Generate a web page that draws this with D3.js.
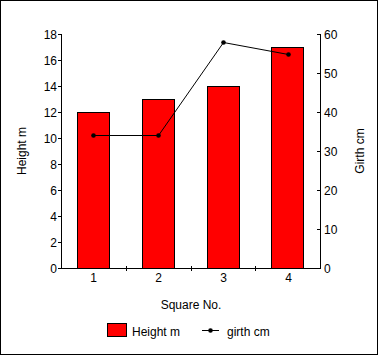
<!DOCTYPE html>
<html>
<head>
<meta charset="utf-8">
<script src="https://cdn.jsdelivr.net/npm/d3@7"></script>
<style>
  html, body { margin: 0; padding: 0; background: #fff; }
  svg { display: block; }
  text { font-family: Arial, "Liberation Sans", sans-serif; font-size: 12px; fill: #000; }
</style>
</head>
<body>
<script>
const categories = ["1", "2", "3", "4"];
const heightValues = [12, 13, 14, 17];
const girthValues = [34, 34, 58, 55];
const leftTicks = [0, 2, 4, 6, 8, 10, 12, 14, 16, 18];
const rightTicks = [0, 10, 20, 30, 40, 50, 60];

const W = 382, H = 356;
const svg = d3.select("body").append("svg").attr("width", W).attr("height", H);

// outer frame
svg.append("rect").attr("x", 0.5).attr("y", 0.5).attr("width", 377).attr("height", 354)
  .attr("fill", "#fff").attr("stroke", "#000").attr("stroke-width", 1);

const x0 = 61, x1 = 320, yTop = 34, yBot = 268;

const x = d3.scaleBand().domain(categories).range([x0, x1]).paddingInner(0.5).paddingOuter(0.25);
const xb = d3.scaleBand().domain(categories).range([x0, x1]);
const yL = d3.scaleLinear().domain([0, 18]).range([yBot, yTop]);
const yR = d3.scaleLinear().domain([0, 60]).range([yBot, yTop]);

// bars
svg.append("g").selectAll("rect").data(heightValues).join("rect")
  .attr("x", (d, i) => Math.round(x(categories[i])) + 0.5)
  .attr("y", d => Math.round(yL(d)) + 0.5)
  .attr("width", Math.round(x.bandwidth()))
  .attr("height", d => Math.round(yBot - yL(d)))
  .attr("fill", "#ff0000").attr("stroke", "#000").attr("stroke-width", 1);

// line
const cx = (i) => Math.round(xb(categories[i]) + xb.bandwidth() / 2);
const line = d3.line().x((d, i) => cx(i) + 0.5).y(d => Math.round(yR(d)) + 0.5);
svg.append("path").datum(girthValues).attr("d", line)
  .attr("fill", "none").attr("stroke", "#000").attr("stroke-width", 1);
svg.append("g").selectAll("circle").data(girthValues).join("circle")
  .attr("cx", (d, i) => cx(i) + 0.5).attr("cy", d => Math.round(yR(d)) + 0.5)
  .attr("r", 2.3).attr("fill", "#000");

// left axis
const gL = svg.append("g");
gL.append("line").attr("x1", x0 + 0.5).attr("x2", x0 + 0.5).attr("y1", yTop).attr("y2", yBot + 1)
  .attr("stroke", "#000");
gL.selectAll(".t").data(leftTicks).join("line")
  .attr("x1", x0 - 3).attr("x2", x0 + 1)
  .attr("y1", d => Math.round(yL(d)) + 0.5).attr("y2", d => Math.round(yL(d)) + 0.5)
  .attr("stroke", "#000");
gL.selectAll("text").data(leftTicks).join("text")
  .attr("x", x0 - 4).attr("y", d => yL(d) + 4.5)
  .attr("text-anchor", "end").text(d => d);

// right axis
const gR = svg.append("g");
gR.append("line").attr("x1", x1 + 0.5).attr("x2", x1 + 0.5).attr("y1", yTop).attr("y2", yBot + 1)
  .attr("stroke", "#000");
gR.selectAll(".t").data(rightTicks).join("line")
  .attr("x1", x1 - 3).attr("x2", x1 + 1)
  .attr("y1", d => Math.round(yR(d)) + 0.5).attr("y2", d => Math.round(yR(d)) + 0.5)
  .attr("stroke", "#000");
gR.selectAll("text").data(rightTicks).join("text")
  .attr("x", x1 + 4).attr("y", d => yR(d) + 4.5)
  .attr("text-anchor", "start").text(d => d);

// bottom axis
const gB = svg.append("g");
gB.append("line").attr("x1", x0).attr("x2", x1 + 1).attr("y1", yBot + 0.5).attr("y2", yBot + 0.5)
  .attr("stroke", "#000");
const bounds = categories.slice(1).map(c => Math.round(xb(c)));
gB.selectAll(".t").data(bounds).join("line")
  .attr("x1", d => d + 0.5).attr("x2", d => d + 0.5).attr("y1", yBot - 2).attr("y2", yBot + 3)
  .attr("stroke", "#000");
gB.selectAll("text").data(categories).join("text")
  .attr("x", (d, i) => cx(i) + 0.5).attr("y", 282)
  .attr("text-anchor", "middle").text(d => d);

// axis titles
svg.append("text").attr("text-anchor", "middle")
  .attr("transform", `translate(25.5,${(yTop + yBot) / 2}) rotate(-90)`).text("Height m");
svg.append("text").attr("text-anchor", "middle")
  .attr("transform", `translate(363.5,${(yTop + yBot) / 2}) rotate(-90)`).text("Girth cm");
svg.append("text").attr("text-anchor", "middle").attr("x", (x0 + x1) / 2 + 0.5).attr("y", 309)
  .text("Square No.");

// legend
const lg = svg.append("g");
lg.append("rect").attr("x", 107.5).attr("y", 323.5).attr("width", 19).attr("height", 13)
  .attr("fill", "#ff0000").attr("stroke", "#000");
lg.append("text").attr("x", 132).attr("y", 336).text("Height m");
lg.append("line").attr("x1", 202).attr("x2", 219).attr("y1", 330.5).attr("y2", 330.5).attr("stroke", "#000");
lg.append("circle").attr("cx", 210.5).attr("cy", 330.5).attr("r", 2.3).attr("fill", "#000");
lg.append("text").attr("x", 227).attr("y", 336).text("girth cm");
</script>
</body>
</html>
